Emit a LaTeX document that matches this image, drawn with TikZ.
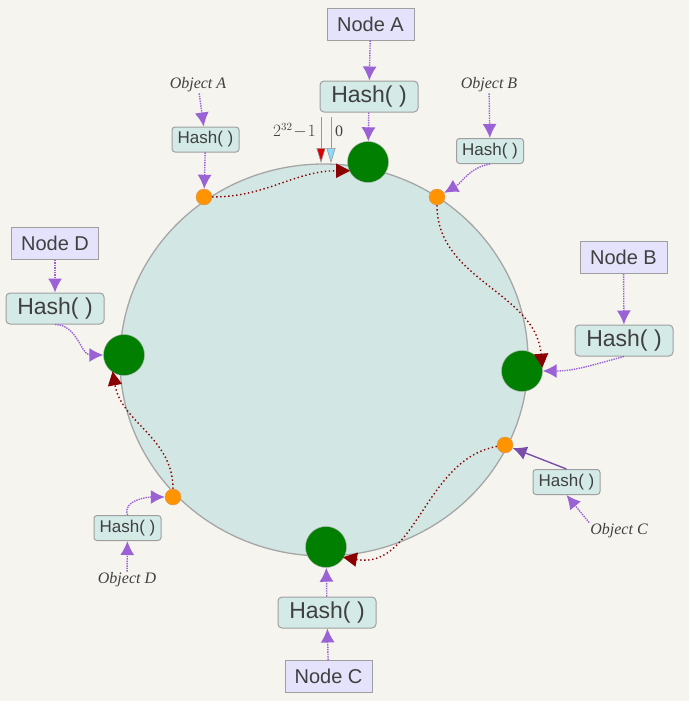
\documentclass[tikz,border=0pt]{standalone}
\usepackage{fontspec}
\setmainfont{Liberation Serif}
\setsansfont{Liberation Sans}
\usetikzlibrary{arrows.meta,positioning}
\definecolor{paper}{HTML}{F6F4EF}
\definecolor{ringfill}{HTML}{D2E7E4}
\definecolor{hostfill}{HTML}{E5E3FB}
\definecolor{hashfill}{HTML}{D3EAE7}
\definecolor{srvgreen}{HTML}{007F00}
\definecolor{keyorange}{HTML}{FF9400}
\definecolor{hashpurple}{HTML}{9B62D6}
\definecolor{walkred}{HTML}{8B0000}
\definecolor{inkgray}{HTML}{404040}

\begin{document}
\begin{tikzpicture}[x=1pt,y=-1pt]
\tikzset{hostbox/.style={draw=gray!75, line width=1pt, fill=hostfill, text=inkgray, font=\sffamily\fontsize{20pt}{24pt}\selectfont, minimum width=87pt, minimum height=32pt, inner sep=0pt}}
\tikzset{hashbig/.style={draw=gray!75, line width=1pt, fill=hashfill, rounded corners=4pt, text=inkgray, font=\sffamily\fontsize{23pt}{26pt}\selectfont, minimum width=98pt, minimum height=31pt, inner sep=0pt}}
\tikzset{hashsmall/.style={draw=gray!75, line width=1pt, fill=hashfill, rounded corners=3pt, text=inkgray, font=\sffamily\fontsize{17pt}{20pt}\selectfont, minimum width=67pt, minimum height=25pt, inner sep=0pt}}
\tikzset{objlabel/.style={text=inkgray, font=\itshape\fontsize{16pt}{18pt}\selectfont, inner sep=1pt}}
\tikzset{server/.style={circle, fill=srvgreen, draw=gray!60, minimum size=41pt, inner sep=0pt}}
\tikzset{keypt/.style={circle, fill=keyorange, draw=orange!70!black!60, minimum size=16pt, inner sep=0pt}}
\tikzset{hasharrow/.style={hashpurple, densely dotted, line width=1.4pt, -{Latex[length=14pt,width=14pt]}}}
\tikzset{walk/.style={walkred, line width=1.4pt, dash pattern=on 1.4pt off 2.6pt, -{Triangle[length=14pt,width=14pt,sep=-1pt]}}}
\tikzset{marker/.style={gray!80, line width=0.6pt}}

\fill[paper] (0,0) rectangle (689,701);
\useasboundingbox (0,0) rectangle (689,707);
\draw[gray!70, fill=ringfill, line width=1.3pt] (324,360) ellipse [x radius=204, y radius=196];

\node[hostbox] (nodeA) at (370.5,24) {Node A};
\node[hashbig] (hashA) at (369,96.5) {Hash( )};
\node[server] (srvA) at (368,162) {};
\node[hostbox] (nodeB) at (623.5,257.5) {Node B};
\node[hashbig] (hashB) at (624,340.5) {Hash( )};
\node[server] (srvB) at (522,371) {};
\node[hostbox] (nodeC) at (328.5,676.5) {Node C};
\node[hashbig] (hashC) at (327,612.5) {Hash( )};
\node[server] (srvC) at (326,547) {};
\node[hostbox] (nodeD) at (55,243.5) {Node D};
\node[hashbig] (hashD) at (55,308.5) {Hash( )};
\node[server] (srvD) at (124,355) {};

\node[objlabel] (objA) at (198,85) {Object A};
\node[hashsmall] (hobjA) at (205.5,139.5) {Hash( )};
\node[keypt] (keyA) at (204,197) {};
\node[objlabel] (objB) at (489,85) {Object B};
\node[hashsmall] (hobjB) at (490,151) {Hash( )};
\node[keypt] (keyB) at (437,197) {};
\node[objlabel] (objC) at (619,531) {Object C};
\node[hashsmall] (hobjC) at (566.5,482) {Hash( )};
\node[keypt] (keyC) at (505,445) {};
\node[objlabel] (objD) at (127,580) {Object D};
\node[hashsmall] (hobjD) at (127.5,528) {Hash( )};
\node[keypt] (keyD) at (173,497) {};

\coordinate (topMax) at (321,117);
\coordinate (topZero) at (331,117);
\coordinate (tipMax) at (321,163);
\coordinate (tipZero) at (331,163);
\draw[marker, -{Triangle[length=15pt,width=9pt,fill=red!85!black]}] (topMax) -- (tipMax);
\draw[marker, -{Triangle[length=15pt,width=9pt,fill=cyan!45]}] (topZero) -- (tipZero);
\node[text=inkgray, font=\fontsize{16pt}{18pt}\selectfont, anchor=east, inner sep=1pt] (lblMax) at (317,131) {$2^{32}\!-\!1$};
\node[text=inkgray, font=\fontsize{16pt}{18pt}\selectfont, anchor=west, inner sep=1pt] (lblZero) at (334,131) {0};

\draw[hasharrow] (nodeA) -- (hashA);
\draw[hasharrow] (hashA) -- (srvA);
\draw[hasharrow] (nodeB) -- (hashB);
\draw[hasharrow] (hashB.south) to[out=195,in=0] (srvB.east);
\draw[hasharrow] (nodeC) -- (hashC);
\draw[hasharrow] (hashC) -- (srvC);
\draw[hasharrow] (nodeD) -- (hashD);
\draw[hasharrow] (hashD.south) to[out=0,in=180] (srvD.west);

\draw[hasharrow] (objA) -- (hobjA);
\draw[hasharrow] (hobjA) -- (keyA);
\draw[hasharrow] (objB) -- (hobjB);
\draw[hasharrow] (hobjB.south) to[out=190,in=30] (keyB);
\draw[hasharrow] (objC.north west) -- (hobjC.south);
\draw[hashpurple!80!black, line width=1.4pt, -{Latex[length=14pt,width=14pt]}] (hobjC.north) -- (keyC);
\draw[hasharrow] (objD) -- (hobjD);
\draw[hasharrow] (hobjD.north) to[out=110,in=180] (keyD);

\draw[walk] (keyA) to[out=0,in=180] (srvA.205);
\draw[walk] (keyB) to[out=-90,in=95] (srvB.12);
\draw[walk] (keyC) to[out=190,in=-10] (srvC.-30);
\draw[walk] (keyD) to[out=90,in=-80] (srvD.237);
\end{tikzpicture}
\end{document}
